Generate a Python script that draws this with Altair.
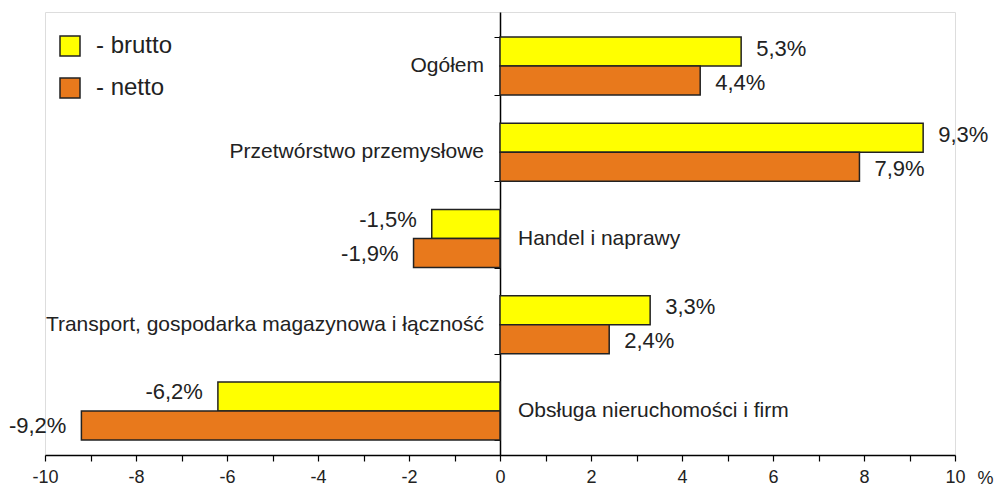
import altair as alt
import pandas as pd

categories = ["Ogółem", "Przetwórstwo przemysłowe", "Handel i naprawy",
              "Transport, gospodarka magazynowa i łączność", "Obsługa nieruchomości i firm"]
brutto = [5.3, 9.3, -1.5, 3.3, -6.2]
netto = [4.4, 7.9, -1.9, 2.4, -9.2]
series_names = ["brutto", "netto"]
colors = ["#FFFF00", "#E8791C"]
x_ticks = list(range(-10, 11))

rows = []
for c, b, n in zip(categories, brutto, netto):
    for s, v in (("brutto", b), ("netto", n)):
        rows.append({"cat": c, "series": s, "value": v,
                     "label": f"{v:.1f}".replace(".", ",") + "%",
                     "sign": "pos" if v >= 0 else "neg"})
df = pd.DataFrame(rows)
cat_df = pd.DataFrame({"cat": categories,
                       "sign": ["pos" if b >= 0 else "neg" for b in brutto],
                       "zero": [0] * len(categories)})

W, H = 910, 443
TXT = "Liberation Sans, Arial, sans-serif"
NARROW = "Liberation Sans Narrow, Arial Narrow, Liberation Sans, sans-serif"

xscale = alt.Scale(domain=[-10, 10], nice=False, zero=False)
xaxis = alt.Axis(values=x_ticks, labelExpr="datum.value % 2 == 0 ? '' + datum.value : ''",
                 grid=False, tickSize=6, tickColor="black", domainColor="black",
                 domainWidth=1.5, tickWidth=1.2, labelFont=NARROW, labelFontSize=18,
                 labelColor="#222", labelPadding=7, labelFlush=False, labelOverlap=False,
                 title="%", titleFont=NARROW,
                 titleFontSize=18, titleFontWeight="normal", titleColor="#222",
                 titleX=W + 22, titleY=28, titleAlign="left", titleBaseline="alphabetic",
                 titleLimit=100)
yscale = alt.Scale(domain=categories, paddingInner=0.327, paddingOuter=0.232, align=0.625)
yaxis = alt.Axis(orient="left", offset=-W / 2, labels=False, title=None, grid=False,
                 domainColor="black", domainWidth=1.5, tickColor="black", tickSize=6,
                 tickBand="extent")
Y = alt.Y("cat:N", scale=yscale, axis=yaxis, sort=categories)
yoff = alt.YOffset("series:N", scale=alt.Scale(domain=series_names, paddingInner=0, paddingOuter=0),
                   sort=series_names)

bars = alt.Chart(df).mark_bar(stroke="#222", strokeWidth=1.5).encode(
    x=alt.X("value:Q", scale=xscale, axis=xaxis, stack=None),
    y=Y,
    yOffset=yoff,
    color=alt.Color("series:N", scale=alt.Scale(domain=series_names, range=colors),
                    legend=alt.Legend(orient="none", legendX=13, legendY=22, title=None,
                                      symbolType="square", symbolSize=400,
                                      symbolStrokeColor="#222", symbolStrokeWidth=1.5,
                                      labelFont=TXT, labelFontSize=24, labelColor="#222",
                                      labelExpr="'- ' + datum.label", rowPadding=16,
                                      labelOffset=14, padding=0)),
)

def value_layer(series, sign, dy):
    al = "left" if sign == "pos" else "right"
    dx = 15 if sign == "pos" else -15
    return alt.Chart(df).transform_filter(
        (alt.datum.series == series) & (alt.datum.sign == sign)
    ).mark_text(align=al, baseline="middle", dx=dx, dy=dy, font=TXT, fontSize=22,
                color="#222").encode(
        x=alt.X("value:Q", scale=xscale, stack=None),
        y=Y, yOffset=yoff, text="label:N")

vals = [value_layer("brutto", "pos", -3), value_layer("brutto", "neg", -4),
        value_layer("netto", "pos", 2), value_layer("netto", "neg", 1)]

cat_pos = alt.Chart(cat_df).transform_filter(alt.datum.sign == "pos").mark_text(
    align="right", baseline="middle", dx=-16, font=TXT, fontSize=21, color="#222").encode(
    x=alt.X("zero:Q", scale=xscale), y=Y, text="cat:N")
cat_neg = alt.Chart(cat_df).transform_filter(alt.datum.sign == "neg").mark_text(
    align="left", baseline="middle", dx=18, font=TXT, fontSize=21, color="#222").encode(
    x=alt.X("zero:Q", scale=xscale), y=Y, text="cat:N")

chart = alt.layer(bars, *vals, cat_pos, cat_neg).properties(
    width=W, height=H,
    autosize=alt.AutoSizeParams(type="none"),
    padding={"left": 37, "top": 4, "right": 41, "bottom": 30},
).configure_view(stroke=None).configure(background="white")

chart.save("out.html", embed_options={"renderer": "svg", "actions": False})
